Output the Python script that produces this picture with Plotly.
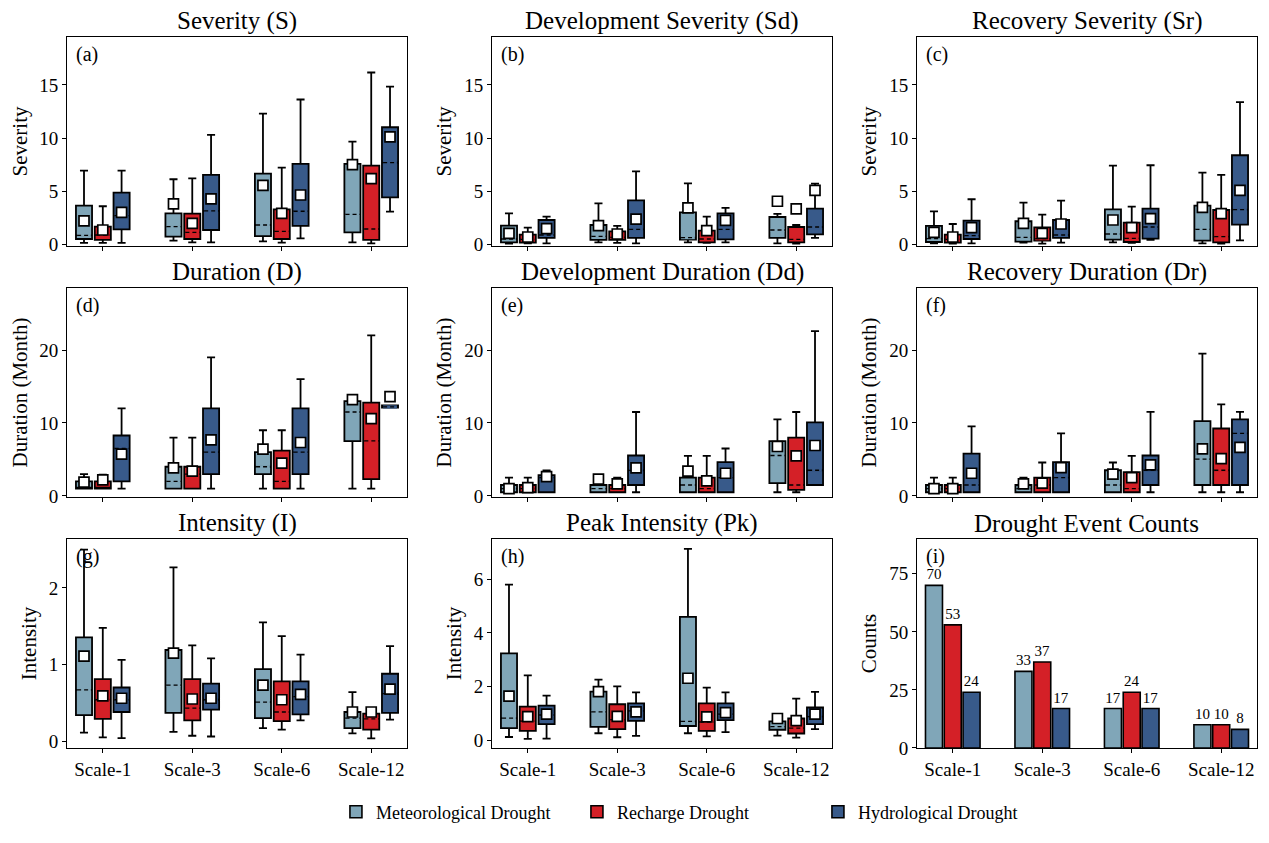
import plotly.graph_objects as go
from plotly.subplots import make_subplots

SCALES = ["Scale-1", "Scale-3", "Scale-6", "Scale-12"]
SERIES = ["Meteorological Drought", "Recharge Drought", "Hydrological Drought"]
COLORS = ["#80a6b8", "#d42027", "#385a8a"]

# one row per scale: lower whisker, q1, median, q3, upper whisker, mean
S_MET = [[0.13, 0.5, 0.85, 3.64, 6.93, 2.2], [0.35, 0.72, 1.66, 2.92, 6.12, 3.8],
         [0.28, 0.78, 1.82, 6.65, 12.3, 5.55], [0.19, 1.13, 2.82, 7.56, 9.66, 7.5]]
S_REC = [[0.13, 0.41, 0.88, 1.66, 3.58, 1.35], [0.19, 0.5, 1.13, 2.89, 6.2, 1.98],
         [0.16, 0.5, 1.22, 3.29, 7.22, 2.92], [0.09, 0.41, 1.44, 7.4, 16.16, 6.18]]
S_HYD = [[0.13, 1.41, 2.7, 4.86, 6.93, 3.0], [0.19, 1.35, 3.14, 6.53, 10.3, 4.27],
         [0.56, 1.73, 3.11, 7.56, 13.62, 4.64], [3.07, 4.42, 7.69, 11.01, 14.84, 10.1]]

SD_MET = [[0.06, 0.19, 0.5, 1.76, 2.92, 1.04], [0.19, 0.41, 0.75, 1.82, 3.86, 1.76],
          [0.19, 0.44, 0.63, 3.01, 5.74, 3.42], [0.09, 0.6, 1.35, 2.57, 2.86, 4.05]]
SD_REC = [[0.09, 0.16, 0.47, 0.91, 1.57, 0.69], [0.13, 0.41, 0.66, 1.22, 1.73, 0.97],
          [0.13, 0.19, 0.5, 1.29, 2.6, 1.29], [0.06, 0.19, 0.47, 1.63, 1.82, 3.33]]
SD_HYD = [[0.09, 0.6, 0.88, 2.29, 2.6, 1.47], [0.09, 0.6, 1.41, 4.14, 6.87, 2.38],
          [0.19, 0.47, 1.41, 2.92, 3.42, 2.26], [0.6, 0.94, 1.63, 3.36, 5.71, 5.08]]

SR_MET = [[0.09, 0.22, 0.53, 1.73, 3.1, 1.13], [0.16, 0.25, 0.66, 2.17, 3.92, 1.98],
          [0.19, 0.44, 0.97, 3.29, 7.41, 2.29], [0.09, 0.35, 1.41, 3.64, 6.75, 3.48]]
SR_REC = [[0.06, 0.16, 0.47, 0.91, 1.91, 0.69], [0.06, 0.35, 0.53, 1.6, 2.79, 1.04],
          [0.13, 0.22, 0.56, 2.04, 3.55, 1.57], [0.06, 0.19, 0.72, 3.23, 6.53, 2.89]]
SR_HYD = [[0.09, 0.5, 0.82, 2.23, 4.24, 1.57], [0.16, 0.6, 0.88, 2.29, 4.11, 1.91],
          [0.41, 0.53, 1.63, 3.36, 7.44, 2.42], [0.38, 1.85, 3.26, 8.38, 13.37, 5.08]]

D_MET = [[1, 1, 1, 2, 3, 1.9], [1, 1, 2, 4, 8, 3.84],
         [1, 3, 4, 6, 9, 6.4], [1, 7.5, 11.5, 13, 13, 13.2]]
D_REC = [[1, 1, 1, 2, 2.9, 2.2], [1, 1, 3, 4, 8, 3.39],
         [1, 1, 2, 6.22, 9, 4.49], [1, 2.29, 7.55, 12.8, 22, 10.6]]
D_HYD = [[1, 2, 6.5, 8.28, 12, 5.72], [1, 3, 6, 12, 19, 7.69],
         [1, 3, 6, 12, 16, 7.32], [12.1, 12.1, 12.2, 12.4, 12.4, 13.6]]

DD_MET = [[0.5, 0.5, 1, 1.5, 2.5, 1.0], [0.5, 0.5, 1, 1.5, 1.5, 2.29],
          [0.5, 0.5, 1.5, 2.5, 5.5, 3.39], [0.5, 1.74, 5.54, 7.5, 10.5, 6.77]]
DD_REC = [[0.5, 0.5, 1, 1.5, 2.5, 1.15], [0.5, 0.5, 1, 1.5, 2.5, 1.65],
          [0.5, 0.5, 1, 2.5, 5.5, 2.06], [0.5, 0.82, 1.5, 8, 11.5, 5.49]]
DD_HYD = [[0.5, 0.5, 2.5, 2.85, 3.5, 2.65], [0.5, 1.5, 3.5, 5.54, 11.5, 3.84],
          [0.5, 0.5, 2.5, 4.62, 6.5, 3.11], [1.5, 1.5, 3.52, 10.07, 22.6, 6.91]]

DR_MET = [[0.5, 0.5, 1, 1.5, 2.5, 1.0], [0.5, 0.5, 1, 1.5, 2.5, 1.65],
          [0.5, 0.5, 1.5, 3.52, 4.58, 3.0], [0.5, 1.5, 5.03, 10.25, 19.5, 6.45]]
DR_REC = [[0.5, 0.5, 1, 1.5, 2.5, 1.0], [0.5, 0.5, 1.5, 2.5, 4.58, 1.74],
          [0.5, 0.5, 1, 3.25, 5.49, 2.5], [0.5, 1.5, 3.52, 9.24, 12.54, 5.12]]
DR_HYD = [[0.5, 0.5, 1.5, 5.81, 9.52, 3.11], [0.5, 0.5, 2.5, 4.62, 8.56, 3.89],
          [0.5, 1.5, 3.52, 5.54, 11.53, 4.26], [0.5, 1.5, 8.56, 10.48, 11.53, 6.64]]

I_MET = [[0.11, 0.34, 0.67, 1.355, 2.5, 1.11], [0.12, 0.37, 0.73, 1.19, 2.27, 1.15],
         [0.17, 0.30, 0.51, 0.94, 1.55, 0.73], [0.10, 0.17, 0.30, 0.38, 0.64, 0.38]]
I_REC = [[0.05, 0.29, 0.54, 0.81, 1.48, 0.59], [0.07, 0.27, 0.43, 0.81, 1.25, 0.55],
         [0.15, 0.26, 0.38, 0.78, 1.37, 0.54], [0.035, 0.15, 0.29, 0.36, 0.38, 0.38]]
I_HYD = [[0.04, 0.38, 0.54, 0.70, 1.06, 0.56], [0.06, 0.41, 0.54, 0.75, 1.08, 0.56],
         [0.27, 0.35, 0.58, 0.78, 1.13, 0.61], [0.28, 0.37, 0.62, 0.88, 1.24, 0.68]]

PK_MET = [[0.12, 0.45, 0.82, 3.24, 5.8, 1.64], [0.26, 0.5, 1.06, 1.81, 2.26, 1.81],
          [0.26, 0.53, 0.70, 4.6, 7.13, 2.31], [0.17, 0.39, 0.51, 0.70, 0.70, 0.81]]
PK_REC = [[0.05, 0.35, 0.71, 1.25, 2.42, 0.88], [0.11, 0.41, 0.77, 1.34, 2.01, 0.89],
          [0.14, 0.35, 0.68, 1.37, 1.96, 0.87], [0.1, 0.25, 0.45, 0.81, 1.55, 0.73]]
PK_HYD = [[0.06, 0.6, 0.94, 1.29, 1.66, 0.97], [0.16, 0.72, 1.09, 1.37, 1.78, 1.06],
          [0.3, 0.75, 0.97, 1.37, 1.78, 1.03], [0.41, 0.6, 0.88, 1.22, 1.8, 0.97]]

COUNT_MET = [70, 33, 17, 10]
COUNT_REC = [53, 37, 24, 10]
COUNT_HYD = [24, 17, 17, 8]

TITLES = ["Severity (S)", "Development Severity (Sd)", "Recovery Severity (Sr)",
          "Duration (D)", "Development Duration (Dd)", "Recovery Duration (Dr)",
          "Intensity (I)", "Peak Intensity (Pk)", "Drought Event Counts"]
LABELS = ["(a)", "(b)", "(c)", "(d)", "(e)", "(f)", "(g)", "(h)", "(i)"]

BOX_PANELS = [
    (1, 1, [S_MET, S_REC, S_HYD]), (1, 2, [SD_MET, SD_REC, SD_HYD]), (1, 3, [SR_MET, SR_REC, SR_HYD]),
    (2, 1, [D_MET, D_REC, D_HYD]), (2, 2, [DD_MET, DD_REC, DD_HYD]), (2, 3, [DR_MET, DR_REC, DR_HYD]),
    (3, 1, [I_MET, I_REC, I_HYD]), (3, 2, [PK_MET, PK_REC, PK_HYD]),
]

FONT = "Liberation Serif"
OFFSETS = [-0.21, 0.0, 0.21]
BOX_W = 0.18

fig = make_subplots(rows=3, cols=3, subplot_titles=TITLES,
                    horizontal_spacing=0.0714, vertical_spacing=0.059)

for row, col, groups in BOX_PANELS:
    for s, stats in enumerate(groups):
        xs = [i + OFFSETS[s] for i in range(len(SCALES))]
        low = [r[0] for r in stats]
        q1 = [r[1] for r in stats]
        med = [r[2] for r in stats]
        q3 = [r[3] for r in stats]
        high = [r[4] for r in stats]
        mean = [r[5] for r in stats]
        fig.add_trace(go.Box(
            x=xs, lowerfence=low, q1=q1, median=med, q3=q3, upperfence=high,
            width=BOX_W, whiskerwidth=0.5, fillcolor=COLORS[s],
            line=dict(color="black", width=1.8), boxpoints=False,
            showlegend=False, hoverinfo="skip"
        ), row=row, col=col)

        # dashed median: hide the solid box median, then draw a dashed one
        mx, my = [], []
        for x, a, m, b in zip(xs, q1, med, q3):
            if a < m < b:
                mx += [x - BOX_W / 2 + 0.013, x + BOX_W / 2 - 0.013, None]
                my += [m, m, None]
        fig.add_trace(go.Scatter(x=mx, y=my, mode="lines", showlegend=False, hoverinfo="skip",
                                 line=dict(color=COLORS[s], width=3.2)), row=row, col=col)
        fig.add_trace(go.Scatter(x=mx, y=my, mode="lines", showlegend=False, hoverinfo="skip",
                                 line=dict(color="black", width=1.3, dash="4px,3px")), row=row, col=col)

        fig.add_trace(go.Scatter(
            x=xs, y=mean, mode="markers", showlegend=False, hoverinfo="skip",
            marker=dict(symbol="square", size=10, color="white",
                        line=dict(color="black", width=1.7))
        ), row=row, col=col)

# drought event counts
for s, counts in enumerate([COUNT_MET, COUNT_REC, COUNT_HYD]):
    fig.add_trace(go.Bar(
        x=[i + OFFSETS[s] for i in range(len(SCALES))], y=counts, width=0.19,
        name=SERIES[s], marker=dict(color=COLORS[s], line=dict(color="black", width=1.6)),
        text=counts, textposition="outside", cliponaxis=False,
        textfont=dict(family=FONT, size=15, color="black"),
        outsidetextfont=dict(family=FONT, size=15, color="black")
    ), row=3, col=3)

axis_style = dict(showline=True, linecolor="black", linewidth=1, mirror=True,
                  ticks="outside", ticklen=4, tickcolor="black", showgrid=False,
                  zeroline=False, automargin=False,
                  tickfont=dict(family=FONT, size=19, color="black"))

Y_SETUP = {
    1: ([-0.16, 19.5], [0, 5, 10, 15], "Severity"),
    2: ([-0.16, 19.5], [0, 5, 10, 15], "Severity"),
    3: ([-0.16, 19.5], [0, 5, 10, 15], "Severity"),
    4: ([-0.15, 28.5], [0, 10, 20], "Duration (Month)"),
    5: ([-0.15, 28.5], [0, 10, 20], "Duration (Month)"),
    6: ([-0.15, 28.5], [0, 10, 20], "Duration (Month)"),
    7: ([-0.09, 2.64], [0, 1, 2], "Intensity"),
    8: ([-0.29, 7.5], [0, 2, 4, 6], "Intensity"),
    9: ([0, 90], [0, 25, 50, 75], "Counts"),
}

for k in range(1, 10):
    yr, yt, ytitle = Y_SETUP[k]
    sfx = "" if k == 1 else str(k)
    fig.update_layout({
        f"xaxis{sfx}": dict(axis_style, range=[-0.4, 3.4], tickvals=list(range(len(SCALES))),
                            ticktext=SCALES if k >= 7 else [""] * len(SCALES)),
        f"yaxis{sfx}": dict(axis_style, range=yr, tickvals=yt,
                            title=dict(text=ytitle, font=dict(family=FONT, size=21, color="black"),
                                       standoff=6)),
    })
    fig.add_annotation(text=LABELS[k - 1], xref=f"x{sfx} domain", yref=f"y{sfx} domain",
                       x=0.02, y=0.98, xanchor="left", yanchor="top", showarrow=False,
                       font=dict(family=FONT, size=20, color="black"))

for ann in fig.layout.annotations:
    if ann.text in TITLES:
        ann.font = dict(family=FONT, size=25, color="black")

# page body adds an 8px margin, so the figure is drawn 8px smaller
fig.update_layout(
    width=1261, height=835,
    template="plotly_white",
    plot_bgcolor="white", paper_bgcolor="white",
    font=dict(family=FONT, color="black"),
    barmode="overlay",
    margin=dict(l=59, r=12, t=29, b=95),
    legend=dict(orientation="h", x=0.226, y=-0.09, xanchor="left", yanchor="middle",
                font=dict(family=FONT, size=18, color="black"), itemwidth=30,
                entrywidth=196),
)

fig.write_html("out.html")
